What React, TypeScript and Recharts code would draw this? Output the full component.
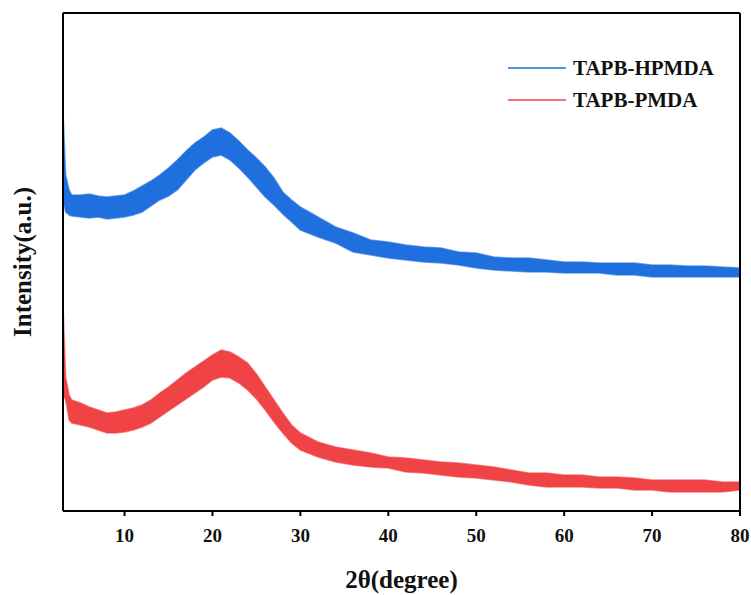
import React from "react";
import { ComposedChart, Area, XAxis, YAxis } from "recharts";

// 2θ positions (degree)
const twoTheta = [
  3, 3.3, 3.7, 4, 5, 6, 7, 8, 9, 10, 11, 12, 13, 14, 15, 16, 17, 18, 19, 20, 21,
  22, 23, 24, 25, 26, 27, 28, 29, 30, 32, 34, 36, 38, 40, 42, 44, 46, 48, 50, 52,
  54, 56, 58, 60, 62, 64, 66, 68, 70, 72, 74, 76, 78, 80,
];

// noise band (upper / lower envelope), arbitrary units
const hpmdaHigh = [
  401, 336, 321, 316, 316, 317, 315, 314, 315, 316, 320, 325, 330, 336, 343, 351,
  360, 368, 374, 381, 383, 378, 370, 361, 353, 344, 333, 319, 311, 304, 294, 284,
  278, 271, 269, 266, 264, 263, 259, 258, 254, 253, 253, 251, 249, 249, 248, 248,
  248, 246, 246, 245, 245, 244, 243,
];
const hpmdaLow = [
  311, 299, 296, 295, 294, 293, 294, 292, 293, 294, 296, 299, 305, 311, 315, 321,
  331, 341, 348, 354, 356, 351, 343, 334, 324, 314, 306, 297, 289, 281, 274, 268,
  259, 256, 253, 251, 249, 248, 246, 243, 241, 240, 239, 239, 238, 238, 238, 236,
  236, 234, 234, 234, 234, 234, 234,
];
const pmdaHigh = [
  208, 134, 116, 111, 108, 104, 101, 98, 99, 101, 103, 106, 111, 118, 124, 131,
  138, 144, 150, 156, 161, 159, 154, 148, 137, 124, 111, 98, 86, 78, 69, 64, 61,
  58, 54, 53, 51, 49, 48, 46, 44, 41, 38, 38, 36, 36, 34, 34, 33, 31, 31, 31, 31,
  29, 29,
];
const pmdaLow = [
  116, 111, 91, 88, 86, 84, 81, 78, 78, 79, 81, 84, 88, 94, 100, 106, 112, 118,
  124, 131, 134, 133, 128, 121, 112, 101, 89, 78, 68, 61, 54, 49, 46, 44, 43, 39,
  38, 36, 34, 33, 31, 29, 26, 24, 24, 24, 23, 23, 21, 21, 19, 19, 19, 19, 21,
];

const xTicks = [10, 20, 30, 40, 50, 60, 70, 80];

const BLUE = "#1f6fde";
const RED = "#f04346";
const FONT = "'Liberation Serif', 'Times New Roman', serif";

const data = twoTheta.map((x, i) => ({
  x,
  hpmda: [hpmdaLow[i], hpmdaHigh[i]],
  pmda: [pmdaLow[i], pmdaHigh[i]],
}));

const legendItems = [
  { name: "TAPB-HPMDA", color: BLUE },
  { name: "TAPB-PMDA", color: RED },
];

function LegendBox() {
  return (
    <div
      style={{
        position: "absolute",
        top: 52,
        left: 508,
        fontFamily: FONT,
        fontWeight: "bold",
        fontSize: 21,
      }}
    >
      {legendItems.map((it) => (
        <div key={it.name} style={{ display: "flex", alignItems: "center", height: 32 }}>
          <svg width={58} height={4} style={{ marginRight: 7 }}>
            <line x1={0} y1={2} x2={58} y2={2} stroke={it.color} strokeWidth={1.5} />
          </svg>
          <span style={{ color: "#111" }}>{it.name}</span>
        </div>
      ))}
    </div>
  );
}

export default function App() {
  return (
    <div style={{ position: "relative", width: 751, height: 595, background: "#fff" }}>
      <style>{"body{margin:0}"}</style>
      <ComposedChart
        width={751}
        height={595}
        data={data}
        margin={{ top: 12, right: 10, left: 62, bottom: 0 }}
      >
        <XAxis
          dataKey="x"
          type="number"
          domain={[3, 80]}
          ticks={xTicks}
          allowDataOverflow
          height={84}
          tickSize={5}
          tickMargin={13}
          stroke="#000"
          strokeWidth={2}
          tick={{ fill: "#111", fontSize: 19, fontWeight: "bold", fontFamily: FONT }}
          label={{
            value: "2θ(degree)",
            position: "insideBottom",
            offset: 7,
            fill: "#111",
            fontSize: 25,
            fontWeight: "bold",
            fontFamily: FONT,
          }}
        />
        <XAxis
          xAxisId="top"
          dataKey="x"
          type="number"
          domain={[3, 80]}
          orientation="top"
          height={1}
          tick={false}
          tickLine={false}
          stroke="#000"
          strokeWidth={2}
        />
        <YAxis
          domain={[0, 498]}
          width={1}
          tick={false}
          tickLine={false}
          stroke="#000"
          strokeWidth={2}
          label={{
            content: ({ viewBox }: any) => {
              const cx = 22;
              const cy = viewBox.y + viewBox.height / 2;
              return (
                <text
                  x={cx}
                  y={cy}
                  transform={`rotate(-90, ${cx}, ${cy})`}
                  textAnchor="middle"
                  dominantBaseline="central"
                  fill="#111"
                  fontSize={25}
                  fontWeight="bold"
                  fontFamily={FONT}
                >
                  Intensity(a.u.)
                </text>
              );
            },
          }}
        />
        <YAxis
          yAxisId="right"
          orientation="right"
          domain={[0, 498]}
          width={1}
          tick={false}
          tickLine={false}
          stroke="#000"
          strokeWidth={2}
        />
        <Area
          type="linear"
          dataKey="hpmda"
          stroke={BLUE}
          strokeWidth={1.5}
          strokeOpacity={0.6}
          fill={BLUE}
          fillOpacity={1}
          isAnimationActive={false}
        />
        <Area
          type="linear"
          dataKey="pmda"
          stroke={RED}
          strokeWidth={1.5}
          strokeOpacity={0.6}
          fill={RED}
          fillOpacity={1}
          isAnimationActive={false}
        />
      </ComposedChart>
      <LegendBox />
    </div>
  );
}
